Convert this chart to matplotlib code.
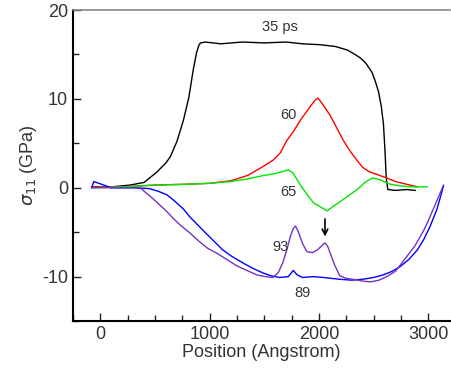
import numpy as np
import matplotlib
matplotlib.use('Agg')
from matplotlib import pylab as plt

# stress profiles sigma_11 along the sample
x_35 = [-80, 100, 270, 400, 460, 520, 600, 640, 700, 760, 810, 850, 880, 900, 915, 960, 1100, 1300,
        1500, 1700, 1850, 2010, 2150, 2260, 2330, 2380, 2430, 2485, 2515, 2545, 2570, 2590, 2605,
        2615, 2630, 2700, 2800, 2880]
y_35 = [0.1, 0.1, 0.3, 0.6, 1.2, 1.8, 2.8, 3.5, 5.2, 7.6, 10.2, 13.3, 15.2, 16.0, 16.3, 16.4, 16.2, 16.4,
        16.3, 16.4, 16.2, 16.1, 15.9, 15.5, 15.0, 14.6, 14.0, 13.0, 12.0, 10.8, 9.2, 7.2, 4.0,
        1.2, -0.2, -0.3, -0.2, -0.3]

x_60 = [-80, 200, 500, 800, 1000, 1200, 1350, 1490, 1580, 1645, 1705, 1770, 1830, 1900, 1960,
        1990, 2010, 2050, 2100, 2160, 2220, 2270, 2310, 2360, 2400, 2460, 2530, 2620, 2700, 2800, 2900]
y_60 = [0.1, 0.1, 0.3, 0.4, 0.5, 0.8, 1.4, 2.4, 3.1, 3.9, 5.3, 6.4, 7.6, 8.8, 9.8,
        10.1, 9.8, 9.1, 8.2, 6.8, 5.4, 4.4, 3.7, 2.9, 2.3, 1.8, 1.5, 1.1, 0.7, 0.4, 0.1]

x_65 = [-80, 200, 500, 800, 1000, 1190, 1350, 1460, 1600, 1720, 1760, 1830, 1900, 1950, 2020, 2075,
        2130, 2190, 2270, 2350, 2420, 2490, 2560, 2650, 2750, 2850, 2990]
y_65 = [0.0, 0.1, 0.3, 0.4, 0.5, 0.7, 1.0, 1.3, 1.6, 2.0, 1.7, 0.3, -0.9, -1.7, -2.2, -2.6,
        -2.1, -1.6, -0.9, -0.2, 0.6, 1.1, 0.9, 0.4, 0.2, 0.1, 0.1]

x_89 = [-80, -60, 100, 300, 450, 530, 610, 680, 760, 820, 900, 940, 1030, 1120, 1200, 1310, 1400,
        1490, 1560, 1640, 1720, 1765, 1800, 1850, 1950, 2040, 2190, 2300, 2400, 2500, 2590, 2670,
        2740, 2820, 2900, 2960, 3015, 3080, 3140]
y_89 = [0.0, 0.7, 0.0, 0.0, -0.1, -0.4, -0.8, -1.5, -2.4, -3.3, -4.3, -4.8, -5.9, -7.0, -7.7, -8.5, -9.1,
        -9.6, -9.9, -10.1, -10.0, -9.3, -9.8, -10.1, -10.0, -10.1, -10.3, -10.4, -10.3, -10.1, -9.8, -9.4,
        -8.9, -8.1, -7.0, -5.8, -4.4, -2.4, 0.2]

x_93 = [-80, 100, 250, 365, 420, 460, 540, 610, 670, 740, 820, 900, 980, 1070, 1160, 1250, 1340, 1430,
        1510, 1580, 1630, 1670, 1710, 1740, 1765, 1785, 1810, 1850, 1890, 1940, 1985, 2020, 2055, 2080,
        2110, 2140, 2190, 2250, 2310, 2400, 2470, 2550, 2620, 2700, 2800, 2880, 2950, 2990, 3060, 3140]
y_93 = [0.0, 0.0, 0.0, 0.0, -0.6, -1.0, -1.9, -2.7, -3.5, -4.3, -5.1, -6.0, -6.8, -7.4, -8.1, -8.8, -9.3, -9.8,
        -10.0, -10.1, -9.5, -8.4, -6.8, -5.4, -4.6, -4.3, -4.9, -6.3, -7.2, -7.3, -7.0, -6.6, -6.2, -6.6,
        -7.6, -8.6, -9.9, -10.2, -10.3, -10.5, -10.6, -10.4, -10.0, -9.4, -7.8, -6.5, -5.0, -4.0, -2.0, 0.3]

series = [(x_35, y_35, 'black'), (x_60, y_60, '#ff0000'), (x_65, y_65, '#00e600'),
          (x_89, y_89, '#0000ff'), (x_93, y_93, '#7333c4')]

txt = '#333333'
plt.rcParams['font.family'] = ['Liberation Sans', 'DejaVu Sans']

fig = plt.figure(figsize=(4.51, 3.72), dpi=100)
ax = fig.add_axes([0.162, 0.137, 0.836, 0.836])

for xs, ys, c in series:
    ax.plot(xs, ys, color=c, lw=1.0)

ax.set_xlim(-250, 3200)
ax.set_ylim(-15, 20)
ax.set_xticks([0, 1000, 2000, 3000])
ax.set_xticks(np.arange(-250, 3200, 250), minor=True)
ax.set_yticks([-10, 0, 10, 20])
ax.set_yticks([-15, -5, 5, 15], minor=True)
ax.set_yticklabels(['-10', '0', '10', '20'])

ax.tick_params(which='both', direction='in', colors='#222222', labelcolor=txt, labelsize=13, top=False, right=False)
ax.tick_params(which='major', length=6, width=1)
ax.tick_params(which='minor', length=4, width=1)
ax.spines['right'].set_visible(False)
ax.spines['top'].set_color('#888888')
ax.spines['top'].set_linewidth(1.2)
ax.spines['left'].set_linewidth(1.5)
ax.spines['bottom'].set_linewidth(1.5)

ax.set_xlabel('Position (Angstrom)', fontsize=13, color=txt, labelpad=1)
ax.set_ylabel(r'$\sigma_{11}$ (GPa)', fontsize=13, color=txt, labelpad=2)

ax.text(1644, 18.1, '35 ps', fontsize=10.5, color=txt, ha='center', va='center')
ax.text(1717, 8.2, '60', fontsize=10.5, color=txt, ha='center', va='center')
ax.text(1717, -0.5, '65', fontsize=10.5, color=txt, ha='center', va='center')
ax.text(1644, -6.7, '93', fontsize=10.5, color=txt, ha='center', va='center')
ax.text(1854, -11.8, '89', fontsize=10.5, color=txt, ha='center', va='center')
ax.annotate('', xy=(2055, -5.8), xytext=(2055, -3.2),
            arrowprops=dict(arrowstyle='->', color='black', lw=1.2))

fig.savefig('out.png', dpi=100)
